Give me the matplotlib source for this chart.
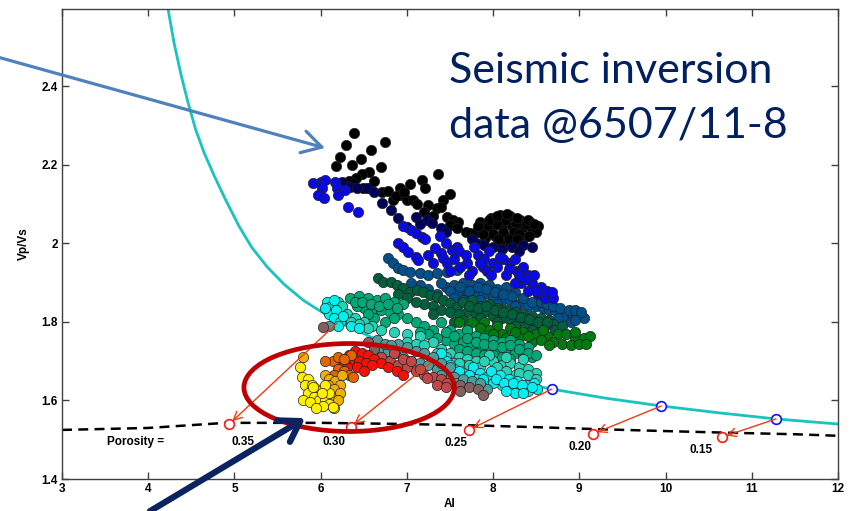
import matplotlib
matplotlib.use("Agg")
import matplotlib.pyplot as plt
from matplotlib.patches import Ellipse

# scatter groups: (x = AI, y = Vp/Vs), coloured by interval
black_x = [6.39, 6.75, 6.29, 6.58, 6.22, 6.47, 6.18, 6.36, 6.70, 6.56, 6.48, 7.36, 6.41, 7.18, 6.33, 6.38,
           7.04, 7.21, 6.57, 6.49, 6.71, 6.78, 6.92, 6.92, 7.50, 7.00, 7.07, 6.84, 7.42, 7.25, 7.35, 7.47,
           7.54, 7.59, 7.39, 7.50, 7.58, 7.68, 7.73, 7.79, 6.62, 6.87, 7.12, 7.20, 7.30, 6.97,
           7.85, 7.97, 8.08, 8.20, 8.31, 8.43, 8.52, 7.87, 7.99, 8.10, 8.22, 8.34, 8.45, 7.91, 8.02, 8.14,
           8.26, 8.37, 8.08, 8.20, 8.31, 8.14, 8.26, 8.04, 7.93, 8.38, 8.50, 8.12, 8.24, 8.00, 8.30, 8.18,
           7.95, 8.05, 8.16, 8.28, 8.40, 8.48, 7.88, 8.06, 8.28, 8.42, 7.83]
black_y = [2.281, 2.259, 2.251, 2.238, 2.220, 2.215, 2.197, 2.200, 2.195, 2.182, 2.177, 2.177, 2.167, 2.162,
           2.159, 2.154, 2.152, 2.141, 2.141, 2.141, 2.131, 2.134, 2.141, 2.124, 2.126, 2.111, 2.111, 2.111,
           2.111, 2.098, 2.090, 2.067, 2.060, 2.055, 2.093, 2.047, 2.039, 2.029, 2.027, 2.027, 2.160, 2.120,
           2.100, 2.080, 2.070, 2.130,
           2.055, 2.065, 2.073, 2.070, 2.060, 2.055, 2.045, 2.034, 2.039, 2.045, 2.045, 2.039, 2.034, 2.014,
           2.019, 2.020, 2.019, 2.017, 2.001, 1.999, 2.004, 2.060, 2.050, 2.050, 2.045, 2.050, 2.030, 2.030,
           2.030, 2.025, 2.025, 2.010,
           2.060, 2.070, 2.075, 2.065, 2.060, 2.050, 2.025, 2.010, 2.012, 2.020, 2.045]

navy_x = [6.25, 6.34, 6.42, 6.54, 6.71, 6.81, 6.90, 7.00, 7.10, 7.23, 7.29, 6.62, 7.15, 7.40, 7.45,
          7.80, 7.90, 8.00, 8.10, 8.22, 8.35, 7.75, 8.30, 8.45]
navy_y = [2.157, 2.144, 2.141, 2.141, 2.103, 2.085, 2.065, 2.042, 2.067, 2.060, 2.052, 2.130, 2.050,
          2.040, 2.030, 2.000, 1.995, 1.990, 1.985, 1.990, 1.995, 2.010, 1.980, 1.990]

blue_x = [5.91, 6.00, 6.05, 6.02, 5.97, 6.04, 6.17, 6.19, 6.20, 6.28, 6.32, 6.43,
          6.95, 7.05, 7.10, 7.18, 7.21, 6.90, 6.96, 7.01, 7.10, 7.13, 7.33, 7.39, 7.42, 7.47, 7.52, 7.58,
          7.38, 7.45, 7.55, 7.62, 7.82, 7.90, 7.95, 8.00, 7.88, 8.05, 8.20, 8.28, 8.35, 8.40, 8.32, 8.45,
          8.40, 8.12, 7.70, 7.75, 8.15, 8.52, 8.60,
          7.60, 7.68, 7.78, 7.85, 7.93, 8.08, 8.18, 8.25, 8.30, 8.38, 8.48, 8.55, 8.62, 8.25, 7.98, 7.72,
          7.50, 7.30, 7.25, 8.70, 8.68, 8.50]
blue_y = [2.154, 2.157, 2.162, 2.141, 2.124, 2.116, 2.157, 2.141, 2.124, 2.136, 2.093, 2.080,
          2.045, 2.035, 2.027, 2.017, 2.011, 2.001, 1.991, 1.978, 1.966, 1.958, 1.989, 1.976, 1.963, 1.950,
          1.983, 1.991, 2.020, 2.000, 1.960, 1.940, 1.970, 1.960, 1.980, 1.950, 1.940, 1.940, 1.950, 1.930,
          1.940, 1.920, 1.900, 1.900, 1.880, 1.960, 1.950, 1.930, 1.920, 1.870, 1.860,
          1.980, 1.970, 1.990, 1.950, 1.930, 1.965, 1.935, 1.960, 1.920, 1.910, 1.920, 1.890, 1.880, 1.900,
          1.920, 1.920, 1.930, 1.950, 1.970, 1.860, 1.875, 1.880]

steel_x = [6.78, 6.84, 6.90, 6.96, 7.04, 7.15, 7.25, 7.35, 7.47, 7.58,
           7.45, 7.55, 7.65, 7.75, 7.85, 7.95, 8.05, 8.15, 8.25, 7.60, 7.70, 7.80, 7.90, 8.00, 8.10, 8.20,
           8.30, 8.40, 8.50, 8.58, 8.65, 8.72, 8.80, 8.85, 8.92, 8.98, 9.05, 8.90, 7.35, 7.25,
           7.40, 7.50, 7.62, 7.72, 7.82, 7.92, 8.02, 8.12, 8.22, 8.35, 8.45, 8.55, 8.62, 8.70, 8.78, 8.88,
           8.95, 9.02, 7.55, 7.65, 7.85, 8.05, 8.25, 8.75, 8.95, 7.15, 7.05]
steel_y = [1.963, 1.950, 1.938, 1.933, 1.927, 1.925, 1.920, 1.925, 1.927, 1.933,
           1.890, 1.895, 1.900, 1.895, 1.900, 1.895, 1.885, 1.890, 1.875, 1.875, 1.865, 1.875, 1.870, 1.860,
           1.855, 1.855, 1.845, 1.840, 1.840, 1.835, 1.830, 1.830, 1.820, 1.815, 1.820, 1.815, 1.810, 1.800,
           1.870, 1.885,
           1.900, 1.880, 1.890, 1.880, 1.890, 1.885, 1.875, 1.870, 1.865, 1.860, 1.850, 1.850, 1.845, 1.840,
           1.835, 1.830, 1.830, 1.825, 1.860, 1.855, 1.855, 1.845, 1.840, 1.810, 1.805, 1.895, 1.900]

dkgreen_x = [6.67, 6.72, 6.81, 6.89, 6.96, 7.04, 7.12, 7.19, 7.27, 7.35, 7.42, 7.50, 7.58,
             7.65, 7.75, 7.85, 7.95, 8.05, 8.15, 8.25, 8.35, 8.45, 8.55, 8.65, 7.70, 7.80, 7.90, 8.00,
             8.10, 8.20, 8.30, 8.40, 8.50, 8.60, 8.70, 7.30, 7.20, 7.10,
             7.40, 7.50, 7.60, 7.72, 7.82, 7.92, 8.02, 8.12, 8.22, 8.32, 8.42, 8.52, 8.62, 8.72, 8.80,
             7.55, 7.65, 7.85, 8.05, 8.25, 8.45, 7.00, 6.90, 7.30]
dkgreen_y = [1.912, 1.902, 1.902, 1.894, 1.887, 1.876, 1.882, 1.876, 1.869, 1.864, 1.856, 1.848, 1.838,
             1.850, 1.855, 1.840, 1.845, 1.835, 1.830, 1.825, 1.820, 1.815, 1.810, 1.805, 1.825, 1.820,
             1.825, 1.815, 1.810, 1.805, 1.800, 1.795, 1.790, 1.790, 1.795, 1.840, 1.845, 1.850,
             1.830, 1.825, 1.820, 1.840, 1.835, 1.840, 1.830, 1.825, 1.820, 1.812, 1.808, 1.800, 1.800,
             1.780, 1.790, 1.800, 1.805, 1.810, 1.800, 1.790, 1.780, 1.860, 1.870, 1.820]

green_x = [7.60, 7.75, 7.90, 8.05, 8.20, 8.35, 8.50, 8.62, 8.75, 8.85, 8.95, 9.05, 9.12, 8.80, 8.90,
           8.70, 9.00, 8.45, 7.95, 8.10,
           7.70, 7.85, 8.00, 8.15, 8.30, 8.40, 8.55, 8.65, 8.95, 9.08, 8.58, 8.25]
green_y = [1.800, 1.800, 1.800, 1.790, 1.785, 1.775, 1.770, 1.765, 1.770, 1.770, 1.760, 1.760, 1.765,
           1.745, 1.740, 1.750, 1.745, 1.750, 1.780, 1.770,
           1.780, 1.785, 1.770, 1.760, 1.760, 1.765, 1.755, 1.740, 1.775, 1.745, 1.780, 1.775]

seagreen_x = [6.34, 6.45, 6.55, 6.65, 6.75, 6.85, 6.50, 6.60, 6.70, 6.80, 6.90, 6.42, 6.95, 6.62, 6.75,
              7.40, 7.50, 7.60, 7.70, 7.80, 7.90, 8.00, 8.10, 8.20, 8.30, 8.40, 7.45, 7.55, 7.65, 7.75,
              7.85, 7.95, 8.05, 8.15, 8.25, 8.35, 8.45, 7.10, 7.20, 7.30, 7.00,
              7.35, 7.45, 7.55, 7.70, 7.80, 7.90, 8.00, 8.10, 8.20, 8.30, 8.40, 8.50, 7.60, 7.70, 7.80,
              7.90, 8.00, 8.10, 8.20, 7.25, 7.15, 6.40, 6.48, 6.58, 6.68, 6.78, 6.88, 6.55, 6.85]
seagreen_y = [1.860, 1.865, 1.860, 1.855, 1.860, 1.850, 1.835, 1.830, 1.830, 1.825, 1.820, 1.840, 1.845,
              1.810, 1.800, 1.800, 1.780, 1.770, 1.780, 1.765, 1.760, 1.755, 1.750, 1.755, 1.745, 1.735,
              1.755, 1.745, 1.750, 1.740, 1.735, 1.730, 1.725, 1.730, 1.720, 1.715, 1.710, 1.800, 1.790,
              1.780, 1.810,
              1.760, 1.775, 1.765, 1.760, 1.750, 1.745, 1.740, 1.735, 1.740, 1.730, 1.720, 1.715, 1.730,
              1.725, 1.720, 1.715, 1.715, 1.710, 1.705, 1.770, 1.775, 1.850, 1.850, 1.845, 1.840, 1.845,
              1.835, 1.820, 1.810]

turq_x = [6.20, 6.25, 6.30, 6.40, 6.50, 6.60, 6.70, 6.85, 7.00, 7.15, 7.30, 7.40, 7.50, 7.60, 7.70,
          7.80, 8.00, 8.10, 8.20, 8.30, 8.40, 8.50, 8.15, 8.35, 7.95, 8.25, 8.45, 7.55, 7.65,
          7.35, 7.45, 7.60, 7.72, 7.85, 7.90, 8.05, 8.15, 8.30, 8.40, 8.50, 7.00, 7.10, 7.20, 6.35,
          6.45, 6.55]
turq_y = [1.850, 1.840, 1.820, 1.810, 1.800, 1.790, 1.780, 1.775, 1.770, 1.765, 1.750, 1.730, 1.720,
          1.710, 1.705, 1.700, 1.700, 1.690, 1.695, 1.685, 1.680, 1.670, 1.710, 1.705, 1.715, 1.665,
          1.655, 1.695, 1.690,
          1.720, 1.710, 1.695, 1.690, 1.685, 1.700, 1.685, 1.675, 1.670, 1.665, 1.655, 1.750, 1.745,
          1.740, 1.800, 1.795, 1.785]

cyan_x = [6.07, 6.12, 6.10, 6.18, 6.15, 6.22, 6.26, 6.35, 6.45,
          7.45, 7.55, 7.65, 7.77, 7.85, 7.92, 7.80, 8.08, 8.18, 8.28, 8.38, 8.48, 8.51, 8.20, 8.30, 8.10,
          8.40, 7.97, 8.00,
          7.50, 7.60, 7.72, 7.88, 8.03, 8.13, 8.23, 8.33, 8.45, 8.25, 8.35, 8.15, 7.40, 6.15, 6.05, 6.20]
cyan_y = [1.850, 1.840, 1.820, 1.830, 1.810, 1.800, 1.815, 1.790, 1.785,
          1.700, 1.680, 1.670, 1.685, 1.670, 1.660, 1.655, 1.665, 1.655, 1.650, 1.640, 1.645, 1.630, 1.635,
          1.630, 1.640, 1.625, 1.675, 1.645,
          1.690, 1.675, 1.665, 1.655, 1.655, 1.645, 1.645, 1.640, 1.635, 1.620, 1.620, 1.625, 1.720,
          1.855, 1.835, 1.790]

grayteal_x = [6.61, 6.70, 6.78, 6.86, 6.95, 7.05, 7.15, 7.25, 7.35, 7.45, 7.55, 6.90, 7.00, 7.10, 7.20,
              7.30, 7.58, 7.70, 7.82, 7.93, 6.10,
              6.65, 6.75, 6.82, 7.40, 7.50, 7.40, 7.65, 7.75, 7.85]
grayteal_y = [1.745, 1.730, 1.725, 1.720, 1.710, 1.700, 1.695, 1.690, 1.680, 1.670, 1.660, 1.745, 1.735,
              1.725, 1.720, 1.710, 1.645, 1.640, 1.640, 1.630, 1.790,
              1.755, 1.745, 1.740, 1.695, 1.685, 1.665, 1.655, 1.650, 1.645]

browngray_x = [6.03, 7.62, 7.72, 7.82, 7.88, 7.62, 6.55, 6.62]
browngray_y = [1.787, 1.640, 1.635, 1.630, 1.614, 1.625, 1.750, 1.730]

brownred_x = [6.70, 6.80, 6.90, 7.00, 7.10, 7.20, 7.30, 7.40, 7.47, 6.85, 6.95, 7.05, 7.23, 7.35, 7.45, 7.15]
brownred_y = [1.710, 1.700, 1.690, 1.685, 1.675, 1.665, 1.660, 1.655, 1.645, 1.720, 1.705, 1.700, 1.657,
              1.640, 1.635, 1.680]

red_x = [6.26, 6.33, 6.40, 6.48, 6.55, 6.62, 6.70, 6.78, 6.88, 6.95, 6.35, 6.45, 6.52, 6.60, 6.42, 6.50, 6.30]
red_y = [1.700, 1.715, 1.725, 1.720, 1.715, 1.705, 1.695, 1.685, 1.675, 1.665, 1.700, 1.700, 1.695, 1.690,
         1.685, 1.675, 1.685]

orange_x = [6.14, 6.20, 6.28, 6.35, 6.20, 6.27, 6.33, 6.15, 6.38, 6.05, 6.27]
orange_y = [1.700, 1.710, 1.705, 1.715, 1.680, 1.675, 1.665, 1.665, 1.660, 1.700, 1.705]

gold_x = [6.05, 6.10, 6.17, 6.23, 6.08, 6.15, 6.22, 6.12, 6.20, 6.25, 5.80]
gold_y = [1.665, 1.655, 1.650, 1.640, 1.640, 1.630, 1.620, 1.610, 1.600, 1.665, 1.710]

yellow_x = [5.76, 5.78, 5.85, 5.82, 5.90, 5.95, 6.00, 5.85, 5.92, 5.98, 6.05, 6.10, 6.03, 6.15, 5.80,
            5.88, 5.95, 6.10, 6.05, 5.91, 6.02, 6.14]
yellow_y = [1.685, 1.660, 1.655, 1.640, 1.640, 1.630, 1.625, 1.620, 1.610, 1.600, 1.605, 1.590, 1.585,
            1.580, 1.600, 1.595, 1.580, 1.620, 1.640, 1.634, 1.620, 1.583]

# drawing order: later groups sit on top
groups = [
    (black_x, black_y, "#000000"),
    (navy_x, navy_y, "#00005a"),
    (steel_x, steel_y, "#00508c"),
    (blue_x, blue_y, "#0a0ae6"),
    (dkgreen_x, dkgreen_y, "#005f3c"),
    (green_x, green_y, "#007a10"),
    (seagreen_x, seagreen_y, "#00a878"),
    (turq_x, turq_y, "#28d2b4"),
    (cyan_x, cyan_y, "#00f0f0"),
    (grayteal_x, grayteal_y, "#509a9a"),
    (browngray_x, browngray_y, "#826060"),
    (brownred_x, brownred_y, "#c04848"),
    (red_x, red_y, "#f51008"),
    (orange_x, orange_y, "#e66400"),
    (gold_x, gold_y, "#f0b000"),
    (yellow_x, yellow_y, "#fff000"),
]

# constant-porosity trend curve (cyan) and porosity line (dashed)
curve_ai = [4.23, 4.30, 4.38, 4.46, 4.55, 4.65, 4.77, 4.90, 5.05, 5.20, 5.38, 5.58, 5.80, 6.05, 6.30,
            6.70, 7.27, 7.77, 8.20, 8.68, 9.30, 9.95, 10.60, 11.28, 12.0]
curve_vpvs = [2.597, 2.51, 2.43, 2.36, 2.29, 2.23, 2.17, 2.11, 2.045, 1.99, 1.94, 1.895, 1.855, 1.82, 1.79,
              1.75, 1.703, 1.672, 1.65, 1.629, 1.606, 1.586, 1.569, 1.553, 1.540]

dash_ai = [3.0, 4.0, 4.9, 6.0, 7.0, 7.7, 8.5, 9.2, 10.0, 10.7, 11.5, 12.0]
dash_vpvs = [1.525, 1.530, 1.543, 1.543, 1.540, 1.537, 1.532, 1.527, 1.522, 1.518, 1.514, 1.510]

# model points on the trend and their shifted positions on the porosity line
model_ai = [6.19, 7.30, 8.68, 9.95, 11.28]
model_vpvs = [1.797, 1.700, 1.629, 1.586, 1.553]
shift_ai = [4.94, 6.35, 7.72, 9.16, 10.66]
shift_vpvs = [1.540, 1.533, 1.525, 1.515, 1.507]
porosity_labels = ["0.35", "0.30", "0.25", "0.20", "0.15"]
label_ai = [5.10, 6.16, 7.57, 9.01, 10.41]
label_vpvs = [1.494, 1.494, 1.492, 1.482, 1.474]

fig = plt.figure(figsize=(8.56, 5.11), dpi=100)
ax = fig.add_axes([62 / 856, 32 / 511, 776 / 856, 470 / 511])

ax.plot(curve_ai, curve_vpvs, color="#19c3c0", lw=2, zorder=2)
ax.plot(dash_ai, dash_vpvs, color="black", lw=1.8, ls=(0, (4, 2.5)), zorder=2)
ax.plot(model_ai, model_vpvs, "o", ms=7, mfc="white", mec="#1010ff", mew=1.2, zorder=2)

for gx, gy, col in groups:
    ax.scatter(gx, gy, s=55, c=col, edgecolors="#202020", linewidths=0.5, zorder=3)

for x0, y0, x1, y1 in zip(model_ai, model_vpvs, shift_ai, shift_vpvs):
    ax.annotate("", xy=(x1, y1), xytext=(x0, y0),
                arrowprops=dict(arrowstyle="->,head_length=0.6,head_width=0.3", color="#f03c10",
                                lw=1.0, shrinkA=0, shrinkB=3), zorder=4)
ax.plot(shift_ai, shift_vpvs, "o", ms=7, mfc="white", mec="#ff1a1a", mew=1.2, zorder=4)

ax.text(3.52, 1.494, "Porosity =", fontsize=8.5, fontweight="bold", va="center", family="Liberation Sans")
for lab, lx, ly in zip(porosity_labels, label_ai, label_vpvs):
    ax.text(lx, ly, lab, fontsize=8.5, fontweight="bold", ha="center", va="center", family="Liberation Sans")

ax.add_patch(Ellipse((6.33, 1.633), 2.44, 0.224, fill=False, ec="#c00000", lw=3.4, zorder=5))

ax.annotate("", xy=(6.05, 2.243), xytext=(2.28, 2.473), annotation_clip=False,
            arrowprops=dict(arrowstyle="->,head_length=0.7,head_width=0.4", color="#4f81bd",
                            lw=2.3, mutation_scale=20, shrinkA=0, shrinkB=0), zorder=6)
ax.annotate("", xy=(5.82, 1.555), xytext=(4.02, 1.318), annotation_clip=False,
            arrowprops=dict(arrowstyle="->,head_length=0.7,head_width=0.45", color="#0b2460",
                            lw=4.5, mutation_scale=20, shrinkA=0, shrinkB=0), zorder=6)

ax.text(7.49, 2.409, "Seismic inversion", fontsize=31, color="#002060", family="Lato")
ax.text(7.49, 2.269, "data @6507/11-8", fontsize=31, color="#002060", family="Lato")

ax.set_xlim(3, 12)
ax.set_ylim(1.4, 2.597)
ax.set_xticks(range(3, 13))
ax.set_yticks([1.4, 1.6, 1.8, 2.0, 2.2, 2.4])
ax.set_yticklabels(["1.4", "1.6", "1.8", "2", "2.2", "2.4"])
ax.tick_params(direction="in", length=5, width=1, top=True, right=True, labelsize=8.5, pad=3, color="#404040")
for lab in ax.get_xticklabels() + ax.get_yticklabels():
    lab.set_fontweight("bold")
    lab.set_family("Liberation Sans")
for sp in ax.spines.values():
    sp.set_color("#404040")
    sp.set_linewidth(1)

ax.set_xlabel("AI", fontsize=8.5, fontweight="bold", family="Liberation Sans", labelpad=2)
ax.set_ylabel("Vp/Vs", fontsize=8.5, fontweight="bold", family="Liberation Sans", labelpad=8)

fig.savefig("out.png", dpi=100)
